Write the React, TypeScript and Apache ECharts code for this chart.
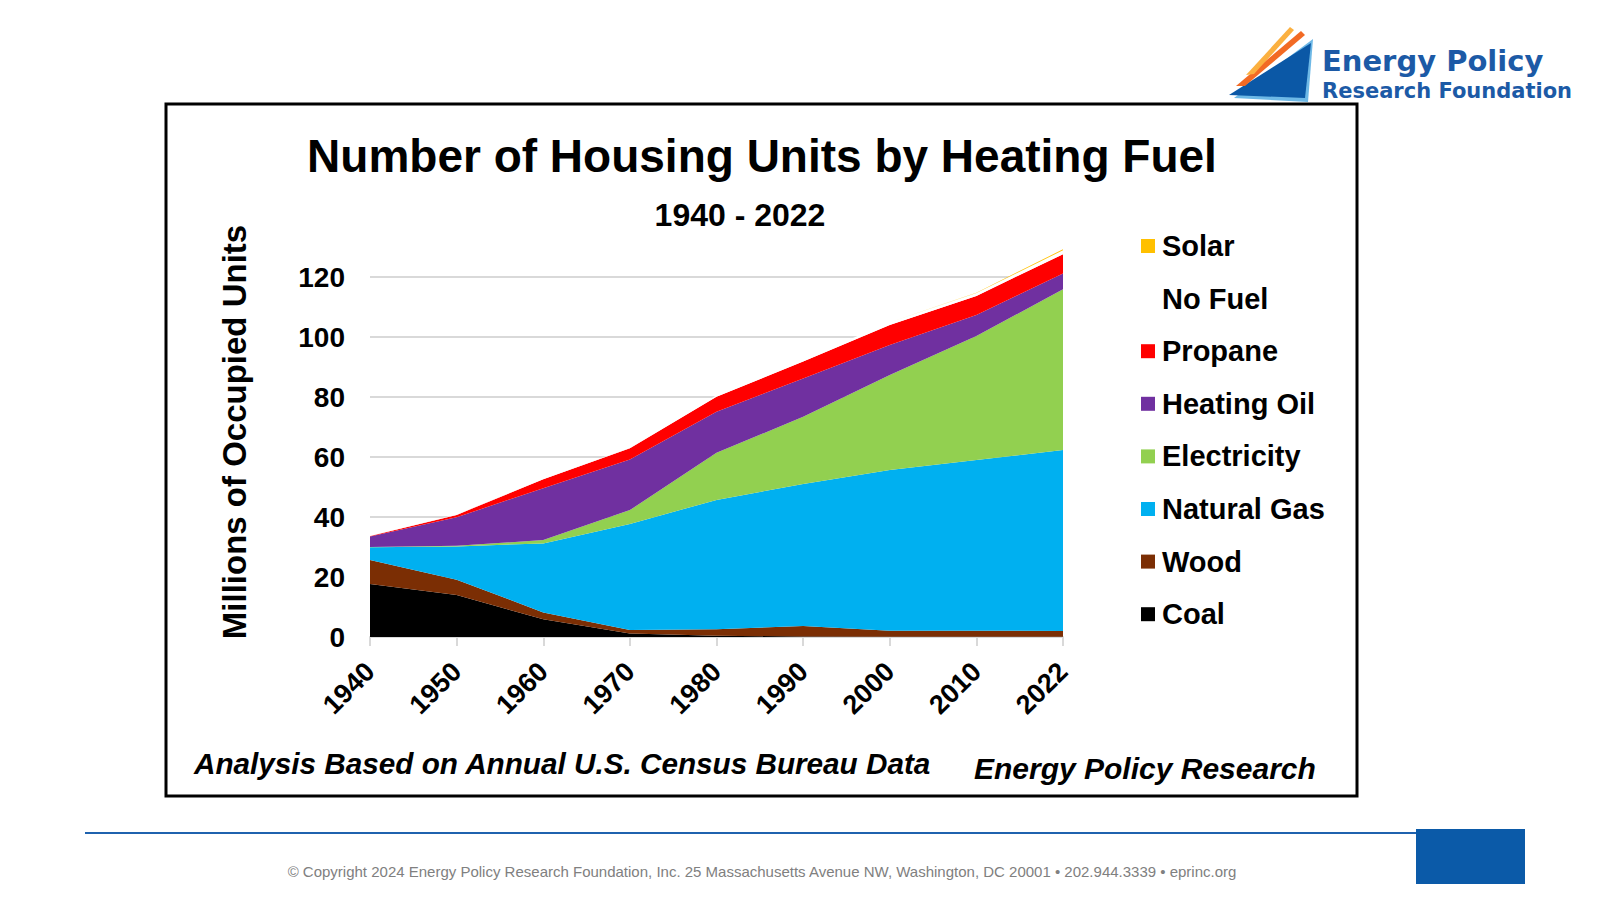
import React, { useEffect, useRef } from "react";
import * as echarts from "echarts";

// ---- Data (millions of occupied housing units) ----
const years = ["1940", "1950", "1960", "1970", "1980", "1990", "2000", "2010", "2022"];
const coal = [17.7, 14.0, 5.9, 1.2, 0.4, 0.2, 0.1, 0.1, 0.1];
const wood = [8.0, 5.1, 2.3, 1.1, 2.2, 3.5, 2.0, 2.0, 1.9];
const naturalGas = [4.2, 11.1, 23.0, 35.4, 43.1, 47.3, 53.6, 56.9, 60.3];
const electricity = [0.1, 0.2, 1.1, 4.6, 15.7, 22.4, 31.6, 41.3, 53.6];
const heatingOil = [3.5, 9.5, 17.3, 16.9, 13.7, 12.8, 10.0, 7.0, 5.3];
const propane = [0.2, 0.8, 3.0, 3.7, 5.0, 5.6, 6.7, 6.4, 6.4];
const noFuel = [0.1, 0.1, 0.2, 0.2, 0.5, 0.8, 0.9, 1.0, 1.3];
const solar = [0, 0, 0, 0, 0, 0, 0, 0.05, 0.35];

const legendOrder = ["Solar", "No Fuel", "Propane", "Heating Oil", "Electricity", "Natural Gas", "Wood", "Coal"];

const FONT = '"Liberation Sans", Arial, Helvetica, sans-serif';

function areaSeries(name: string, data: number[], color: string) {
  return {
    name,
    type: "line",
    stack: "total",
    data,
    symbol: "none",
    showSymbol: false,
    silent: true,
    lineStyle: { width: 0, color },
    itemStyle: { color },
    areaStyle: { color, opacity: 1 },
    emphasis: { disabled: true },
  };
}

export default function App() {
  const ref = useRef<HTMLDivElement>(null);

  useEffect(() => {
    if (!ref.current) return;
    const chart = echarts.init(ref.current, null, { renderer: "svg" });

    const option: any = {
      animation: false,
      backgroundColor: "#ffffff",
      grid: { left: 370, top: 247, width: 693, height: 390, containLabel: false },
      xAxis: {
        type: "category",
        data: years,
        boundaryGap: false,
        axisLine: { show: true, lineStyle: { color: "#d9d9d9", width: 2 } },
        axisTick: { show: true, length: 9, lineStyle: { color: "#d9d9d9", width: 2 } },
        axisLabel: {
          rotate: 45,
          margin: 30,
          color: "#000",
          fontFamily: FONT,
          fontWeight: "bold",
          fontSize: 27,
          interval: 0,
        },
        splitLine: { show: false },
      },
      yAxis: {
        type: "value",
        min: 0,
        max: 130,
        interval: 20,
        axisLine: { show: false },
        axisTick: { show: false },
        axisLabel: {
          color: "#000",
          fontFamily: FONT,
          fontWeight: "bold",
          fontSize: 28,
          margin: 25,
          showMaxLabel: false,
        },
        splitLine: {
          show: true,
          showMaxLine: false,
          lineStyle: { color: "#d9d9d9", width: 2 },
        },
      },
      legend: {
        data: legendOrder,
        orient: "vertical",
        left: 1136,
        top: 226,
        icon: "rect",
        itemWidth: 14,
        itemHeight: 14,
        itemGap: 22.6,
        selectedMode: false,
        textStyle: {
          color: "#000",
          fontFamily: FONT,
          fontWeight: "bold",
          fontSize: 29,
          lineHeight: 30,
          padding: [0, 0, 0, 2],
        },
      },
      series: [
        areaSeries("Coal", coal, "#000000"),
        areaSeries("Wood", wood, "#7B2E04"),
        areaSeries("Natural Gas", naturalGas, "#00B0F0"),
        areaSeries("Electricity", electricity, "#92D050"),
        areaSeries("Heating Oil", heatingOil, "#7030A0"),
        areaSeries("Propane", propane, "#FF0000"),
        areaSeries("No Fuel", noFuel, "#FFFFFF"),
        areaSeries("Solar", solar, "#FFC000"),
      ],
      graphic: [
        // chart frame
        {
          type: "rect",
          shape: { x: 166, y: 104, width: 1191, height: 692 },
          style: { fill: "none", stroke: "#000", lineWidth: 3 },
          silent: true,
        },
        {
          type: "text",
          x: 762,
          y: 156,
          style: {
            text: "Number of Housing Units by Heating Fuel",
            fill: "#000",
            font: `bold 46px ${FONT}`,
            textAlign: "center",
            textVerticalAlign: "middle",
          },
        },
        {
          type: "text",
          x: 740,
          y: 215,
          style: {
            text: "1940 - 2022",
            fill: "#000",
            font: `bold 32px ${FONT}`,
            textAlign: "center",
            textVerticalAlign: "middle",
          },
        },
        {
          type: "text",
          x: 234,
          y: 432,
          rotation: Math.PI / 2,
          style: {
            text: "Millions of Occupied Units",
            fill: "#000",
            font: `bold 33px ${FONT}`,
            textAlign: "center",
            textVerticalAlign: "middle",
          },
        },
        {
          type: "text",
          x: 194,
          y: 763,
          style: {
            text: "Analysis Based on Annual U.S. Census Bureau Data",
            fill: "#000",
            font: `italic bold 29.7px ${FONT}`,
            textAlign: "left",
            textVerticalAlign: "middle",
          },
        },
        {
          type: "text",
          x: 974,
          y: 768,
          style: {
            text: "Energy Policy Research",
            fill: "#000",
            font: `italic bold 30px ${FONT}`,
            textAlign: "left",
            textVerticalAlign: "middle",
          },
        },
        // footer
        {
          type: "line",
          shape: { x1: 85, y1: 833, x2: 1416, y2: 833 },
          style: { stroke: "#1F62AE", lineWidth: 2 },
        },
        {
          type: "rect",
          shape: { x: 1416, y: 829, width: 109, height: 55 },
          style: { fill: "#0B5AA8" },
        },
        {
          type: "text",
          x: 762,
          y: 871,
          style: {
            text: "\u00A9 Copyright 2024 Energy Policy Research Foundation, Inc. 25 Massachusetts Avenue NW, Washington, DC 20001 \u2022 202.944.3339 \u2022 eprinc.org",
            fill: "#808080",
            font: `15px ${FONT}`,
            textAlign: "center",
            textVerticalAlign: "middle",
          },
        },
        // logo
        {
          type: "polygon",
          shape: { points: [[1313, 39], [1308, 102], [1234, 98]] },
          style: { fill: "#6DB8E6" },
        },
        {
          type: "polygon",
          shape: { points: [[1229, 95], [1311, 43], [1305, 98]] },
          style: { fill: "#0B58A6" },
        },
        {
          type: "polygon",
          shape: { points: [[1236, 86], [1301, 31], [1305, 35], [1245, 86]] },
          style: { fill: "#F26A24" },
        },
        {
          type: "polygon",
          shape: { points: [[1246, 75], [1290, 27], [1294, 30], [1254, 74]] },
          style: { fill: "#FBB040" },
        },
        {
          type: "text",
          x: 1322,
          y: 61,
          style: {
            text: "Energy Policy",
            fill: "#1C5AA6",
            font: `bold 29px "DejaVu Sans", sans-serif`,
            textAlign: "left",
            textVerticalAlign: "middle",
          },
        },
        {
          type: "text",
          x: 1322,
          y: 91,
          style: {
            text: "Research Foundation",
            fill: "#1C5AA6",
            font: `bold 21px "DejaVu Sans", sans-serif`,
            textAlign: "left",
            textVerticalAlign: "middle",
          },
        },
      ],
    };

    chart.setOption(option);
    return () => chart.dispose();
  }, []);

  return (
    <div
      ref={ref}
      style={{ position: "fixed", left: 0, top: 0, width: 1600, height: 900, background: "#fff" }}
    />
  );
}
